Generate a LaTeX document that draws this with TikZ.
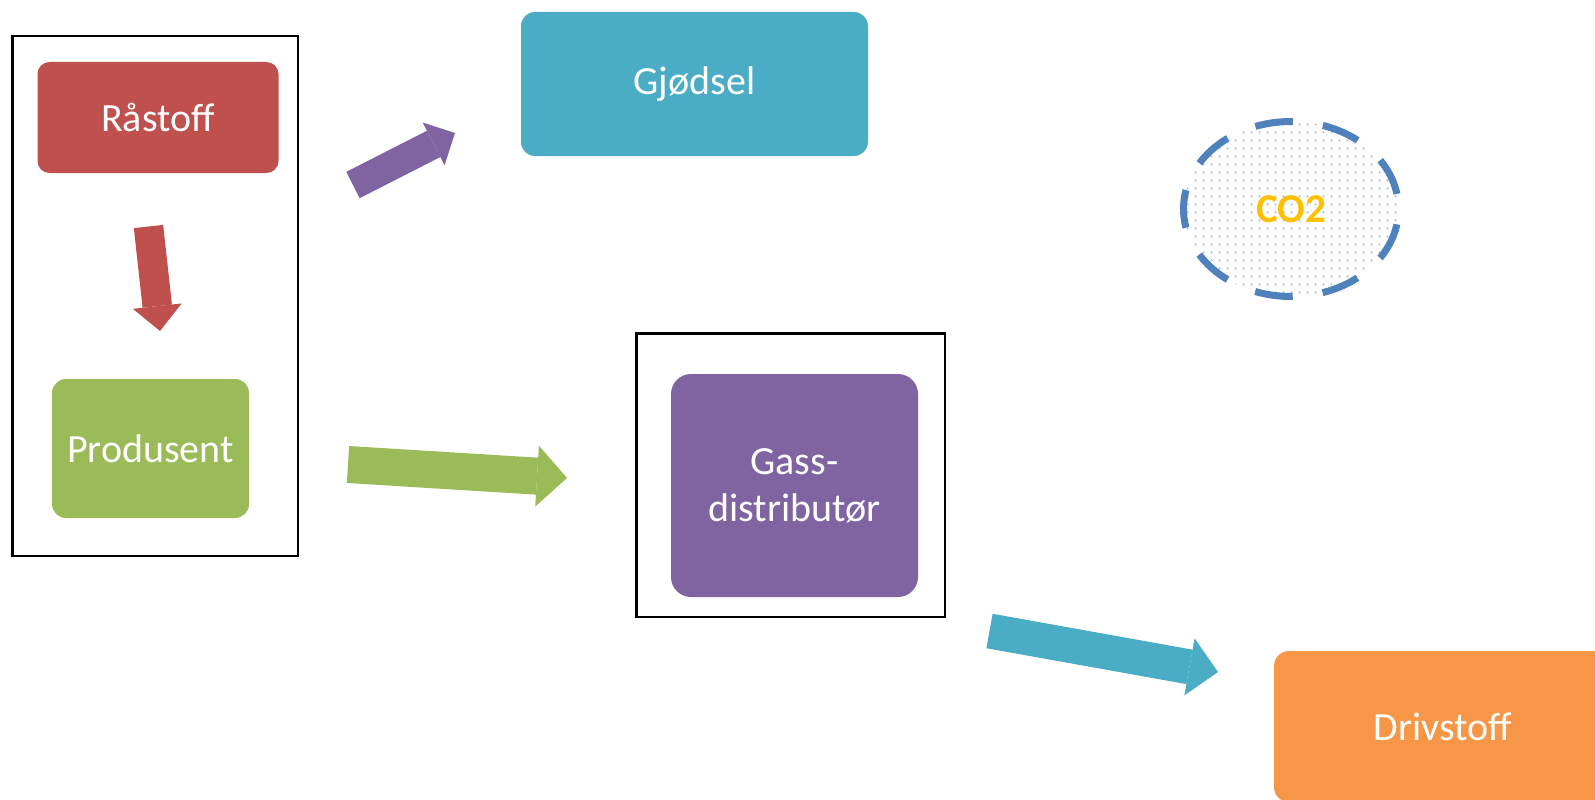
\documentclass[tikz,border=0pt]{standalone}
\usepackage{fontspec}
\setmainfont{Carlito}
\usetikzlibrary{arrows.meta}
\usetikzlibrary{patterns}
\usetikzlibrary{shapes.geometric}
\definecolor{raared}{HTML}{C0504D}
\definecolor{prodgreen}{HTML}{9BBB59}
\definecolor{gjcyan}{HTML}{4BACC6}
\definecolor{gasspurple}{HTML}{8064A2}
\definecolor{drivorange}{HTML}{F79646}
\definecolor{co2blue}{HTML}{4F81BD}
\definecolor{co2gold}{HTML}{FFC000}
\pgfdeclarepatternformonly{co2dots}{\pgfqpoint{0pt}{0pt}}{\pgfqpoint{8pt}{8pt}}{\pgfqpoint{8pt}{8pt}}{\pgfpathcircle{\pgfqpoint{4pt}{4pt}}{1.4pt}\pgfusepathqfill}
\tikzstyle{boxnode} = [rounded corners=12pt, text=white, align=center, inner sep=0pt, font=\fontsize{40}{47}\selectfont]
\tikzstyle{framenode} = [draw, line width=2.5pt, inner sep=0pt]
\tikzstyle{co2node} = [ellipse, draw=co2blue, line width=7pt, dash pattern=on 38pt off 30.2pt, dash phase=53pt, pattern=co2dots, pattern color=co2blue!45, text=co2gold, font=\bfseries\fontsize{41}{47}\selectfont]

\begin{document}
\begin{tikzpicture}[x=1pt, y=-1pt]
  \useasboundingbox[fill=white] (0,0) rectangle (1595,800);

  \node[framenode, minimum width=285.5, minimum height=519.5] (leftframe) at (155,296) {};
  \node[framenode, minimum width=308.5, minimum height=283.5] (gassframe) at (790.5,475) {};

  \node[boxnode, fill=raared, minimum width=241, minimum height=111] (raastoff) at (158,117.5) {Råstoff};
  \node[boxnode, fill=prodgreen, rounded corners=14pt, minimum width=197, minimum height=139] (produsent) at (150.5,448.5) {Produsent};
  \node[boxnode, fill=gjcyan, rounded corners=14pt, minimum width=347, minimum height=144] (gjoedsel) at (694.5,84) {Gjødsel};
  \node[boxnode, fill=gasspurple, rounded corners=20pt, minimum width=247, minimum height=223] (gass) at (794.5,485.5) {Gass-\\distributør};
  \node[boxnode, fill=drivorange, rounded corners=15pt, minimum width=338, minimum height=151] (drivstoff) at (1443,726.5) {Drivstoff};
  \node[co2node, minimum width=215, minimum height=175] (co2) at (1291,209) {CO2};

  \coordinate (rawtail) at (148.5,226.5);
  \coordinate (rawtip) at (160,331);
  \coordinate (gjtail) at (353,185);
  \coordinate (gjtip) at (455,133);
  \coordinate (prodtail) at (348,464.5);
  \coordinate (prodtip) at (567,478);
  \coordinate (drivtail) at (989.5,631);
  \coordinate (drivtip) at (1218,672);

  \draw[raared, line width=29.5pt, -{Triangle[width=49pt, length=25pt, line width=0pt]}] (rawtail) -- (rawtip);
  \draw[gasspurple, line width=29.5pt, -{Triangle[width=48pt, length=24pt, line width=0pt]}] (gjtail) -- (gjtip);
  \draw[prodgreen, line width=37pt, -{Triangle[width=61pt, length=30pt, line width=0pt]}] (prodtail) -- (prodtip);
  \draw[gjcyan, line width=35pt, -{Triangle[width=58pt, length=29pt, line width=0pt]}] (drivtail) -- (drivtip);
\end{tikzpicture}
\end{document}
